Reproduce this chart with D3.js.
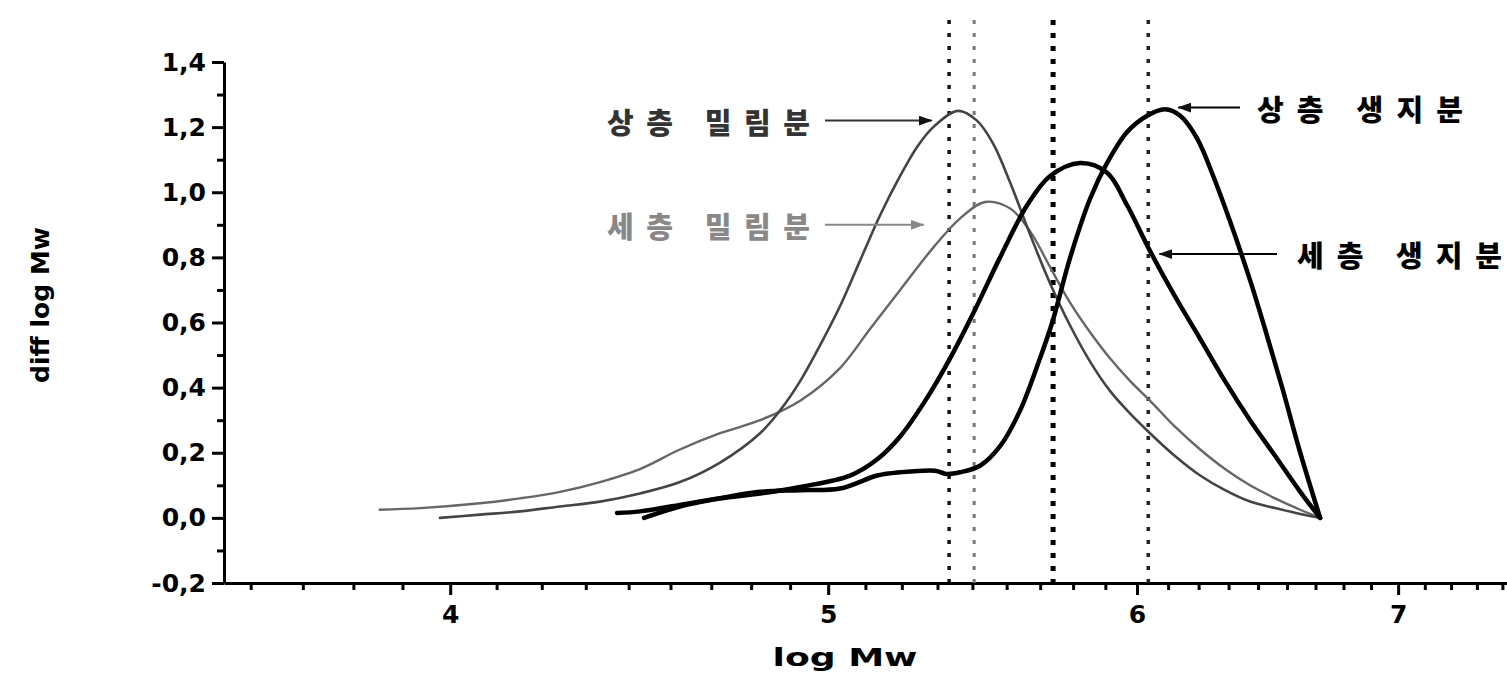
<!DOCTYPE html>
<html>
<head>
<meta charset="utf-8">
<script src="https://cdn.jsdelivr.net/npm/d3@7"></script>
<style>
    html, body { margin: 0; padding: 0; background: #fff; }
    svg { display: block; }
    .axis text { font-family: "DejaVu Sans", sans-serif; font-weight: bold; font-size: 25px; fill: #000; }
    .axis path, .axis line { stroke: #000; stroke-width: 3; }
    .axis-title { font-family: "DejaVu Sans", sans-serif; font-weight: bold; fill: #000; }
    .label { font-family: "Noto Sans CJK KR", sans-serif; font-weight: 900; font-size: 29px; }
    .curve { fill: none; stroke-linejoin: round; stroke-linecap: round; }
</style>
</head>
<body>
<svg id="chart"></svg>
<script>

// Data ////////////////////////////////////

const seriesNames = ["상층 밀림분", "세층 밀림분", "상층 생지분", "세층 생지분"];

// [log Mw, diff log Mw]
const upperMilled = [
    [3.976, 0.00], [4.071, 0.01], [4.168, 0.02], [4.268, 0.035], [4.370, 0.05],
    [4.474, 0.075], [4.581, 0.11], [4.691, 0.17], [4.803, 0.26], [4.860, 0.33],
    [4.918, 0.42], [4.976, 0.53], [5.035, 0.65], [5.095, 0.79], [5.156, 0.93],
    [5.217, 1.05], [5.270, 1.14], [5.320, 1.20], [5.398, 1.25], [5.459, 1.22],
    [5.511, 1.15], [5.567, 1.03], [5.633, 0.87], [5.700, 0.72], [5.768, 0.59],
    [5.836, 0.48], [5.905, 0.39], [5.976, 0.32], [6.046, 0.26], [6.136, 0.19],
    [6.228, 0.13], [6.320, 0.085], [6.414, 0.05], [6.510, 0.03], [6.607, 0.012],
    [6.685, 0.00]
];

const lowerMilled = [
    [3.837, 0.025], [3.930, 0.03], [4.071, 0.045], [4.168, 0.06], [4.268, 0.08],
    [4.370, 0.11], [4.474, 0.15], [4.581, 0.21], [4.691, 0.26], [4.803, 0.30],
    [4.918, 0.36], [5.035, 0.46], [5.125, 0.58], [5.217, 0.70], [5.320, 0.83],
    [5.405, 0.92], [5.485, 0.97], [5.567, 0.95], [5.633, 0.88], [5.700, 0.77],
    [5.768, 0.66], [5.836, 0.57], [5.905, 0.49], [5.976, 0.42], [6.046, 0.36],
    [6.136, 0.28], [6.228, 0.21], [6.320, 0.15], [6.414, 0.10], [6.510, 0.06],
    [6.607, 0.025], [6.685, 0.00]
];

const upperRaw = [
    [4.485, 0.00], [4.581, 0.035], [4.691, 0.06], [4.803, 0.08], [4.918, 0.085],
    [5.035, 0.09], [5.147, 0.13], [5.217, 0.14], [5.326, 0.145], [5.361, 0.135],
    [5.405, 0.14], [5.469, 0.16], [5.534, 0.22], [5.600, 0.33], [5.666, 0.49],
    [5.707, 0.60], [5.768, 0.80], [5.836, 0.98], [5.895, 1.09], [5.965, 1.185],
    [6.036, 1.235], [6.100, 1.255], [6.155, 1.235], [6.217, 1.165], [6.276, 1.05],
    [6.339, 0.91], [6.414, 0.73], [6.471, 0.58], [6.537, 0.40], [6.607, 0.20],
    [6.685, 0.00]
];

const lowerRaw = [
    [4.414, 0.015], [4.474, 0.02], [4.581, 0.04], [4.691, 0.06], [4.803, 0.075],
    [4.918, 0.095], [5.065, 0.13], [5.147, 0.18], [5.217, 0.25], [5.295, 0.36],
    [5.373, 0.49], [5.453, 0.64], [5.534, 0.80], [5.623, 0.96], [5.700, 1.05],
    [5.802, 1.09], [5.895, 1.06], [5.965, 0.96], [6.046, 0.82], [6.136, 0.68],
    [6.228, 0.55], [6.320, 0.42], [6.414, 0.30], [6.510, 0.19], [6.607, 0.08],
    [6.685, 0.00]
];

const refLines = [5.37, 5.45, 5.71, 6.04];

const xTickValues = [4, 5, 6, 7];
const yTickValues = [-0.2, 0, 0.2, 0.4, 0.6, 0.8, 1.0, 1.2, 1.4];

// Layout ////////////////////////////////////

const dim = { width: 1507, height: 674 };
const plot = { left: 224, right: 1515, top: 62, bottom: 583 };

const x = d3.scaleLog()
    .domain([3.5, 7.5])
    .range([plot.left, plot.right]);

const y = d3.scaleLinear()
    .domain([-0.2, 1.4])
    .range([plot.bottom, plot.top]);

const svg = d3.select("#chart")
    .attr("width", dim.width)
    .attr("height", dim.height)
    .attr("viewBox", [0, 0, dim.width, dim.height]);

const defs = svg.append("defs");
[["arrow-dark", "#111"], ["arrow-grey", "#888"]].forEach(([id, color]) => {
    defs.append("marker")
        .attr("id", id)
        .attr("markerUnits", "userSpaceOnUse")
        .attr("markerWidth", 14).attr("markerHeight", 10)
        .attr("refX", 13).attr("refY", 5)
        .attr("orient", "auto")
        .append("path")
        .attr("d", "M0,0 L14,5 L0,10 Z")
        .attr("fill", color);
});

// Axes ////////////////////////////////////

// 8 minor ticks between major ticks, as on the original axis
const minorX = [];
const xMajors = [3, 4, 5, 6, 7, 8];
for (let i = 0; i < xMajors.length - 1; i++) {
    for (let k = 1; k < 9; k++) {
        const v = xMajors[i] + k / 9;
        if (v > 3.5 && v < 7.5) minorX.push(v);
    }
}
const minorY = d3.range(-0.1, 1.4, 0.2);

const fmtComma = d => d3.format(".1f")(d).replace(".", ",").replace("−", "-");

svg.append("g")
    .attr("class", "axis")
    .attr("transform", `translate(0, ${ plot.bottom })`)
    .call(d3.axisBottom(x).tickValues(minorX).tickFormat("").tickSize(7).tickSizeOuter(0))
    .call(g => g.select(".domain").remove());

svg.append("g")
    .attr("class", "axis x")
    .attr("transform", `translate(0, ${ plot.bottom })`)
    .call(d3.axisBottom(x)
        .tickValues(xTickValues)
        .tickFormat(d3.format("d"))
        .tickSize(12)
        .tickSizeOuter(0)
        .tickPadding(10));

svg.append("g")
    .attr("class", "axis")
    .attr("transform", `translate(${ plot.left }, 0)`)
    .call(d3.axisLeft(y).tickValues(minorY).tickFormat("").tickSize(7).tickSizeOuter(0))
    .call(g => g.select(".domain").remove());

svg.append("g")
    .attr("class", "axis y")
    .attr("transform", `translate(${ plot.left }, 0)`)
    .call(d3.axisLeft(y)
        .tickValues(yTickValues)
        .tickFormat(fmtComma)
        .tickSize(12)
        .tickSizeOuter(0)
        .tickPadding(6));

svg.append("text")
    .attr("class", "axis-title")
    .attr("x", 845)
    .attr("y", 666)
    .attr("text-anchor", "middle")
    .style("font-size", "25px")
    .attr("textLength", 145)
    .attr("lengthAdjust", "spacingAndGlyphs")
    .text("log Mw");

svg.append("text")
    .attr("class", "axis-title")
    .attr("transform", "translate(40, 305) rotate(-90)")
    .attr("text-anchor", "middle")
    .attr("dominant-baseline", "central")
    .style("font-size", "25px")
    .text("diff log Mw");

// Reference lines ////////////////////////////////////

const refStyles = [
    { color: "#111", width: 3.5, dash: "4 9" },
    { color: "#777", width: 3, dash: "4 9" },
    { color: "#000", width: 5, dash: "5 8" },
    { color: "#222", width: 3.5, dash: "4 9" }
];

svg.append("g")
    .selectAll("line")
    .data(refLines)
    .join("line")
    .attr("x1", d => x(d)).attr("x2", d => x(d))
    .attr("y1", 20).attr("y2", plot.bottom)
    .attr("stroke", (d, i) => refStyles[i].color)
    .attr("stroke-width", (d, i) => refStyles[i].width)
    .attr("stroke-dasharray", (d, i) => refStyles[i].dash);

// Curves ////////////////////////////////////

const line = d3.line()
    .curve(d3.curveCatmullRom.alpha(0.5))
    .x(d => x(d[0]))
    .y(d => y(d[1]));

const curves = [
    { data: lowerMilled, color: "#666", width: 2.4 },
    { data: upperMilled, color: "#444", width: 2.6 },
    { data: lowerRaw, color: "#000", width: 4.5 },
    { data: upperRaw, color: "#000", width: 4.5 }
];

svg.append("g")
    .selectAll("path")
    .data(curves)
    .join("path")
    .attr("class", "curve")
    .attr("d", d => line(d.data))
    .attr("stroke", d => d.color)
    .attr("stroke-width", d => d.width);

// Annotations ////////////////////////////////////

const annotations = [
    { name: seriesNames[0], target: [5.315, 1.22], tailX: 825, textX: 607, width: 203, color: "#333", marker: "arrow-dark" },
    { name: seriesNames[1], target: [5.29, 0.90], tailX: 825, textX: 607, width: 203, color: "#888", marker: "arrow-grey" },
    { name: seriesNames[2], target: [6.148, 1.26], tailX: 1240, textX: 1257, width: 206, color: "#000", marker: "arrow-dark" },
    { name: seriesNames[3], target: [6.08, 0.81], tailX: 1277, textX: 1297, width: 205, color: "#000", marker: "arrow-dark" }
];

const ann = svg.append("g")
    .selectAll("g")
    .data(annotations)
    .join("g");

ann.append("line")
    .attr("x1", d => d.tailX)
    .attr("x2", d => x(d.target[0]))
    .attr("y1", d => y(d.target[1]))
    .attr("y2", d => y(d.target[1]))
    .attr("stroke", d => d.color)
    .attr("stroke-width", 2)
    .attr("marker-end", d => `url(#${ d.marker })`);

ann.append("text")
    .attr("class", "label")
    .attr("x", d => d.textX)
    .attr("y", d => y(d.target[1]))
    .attr("dominant-baseline", "central")
    .attr("textLength", d => d.width)
    .attr("lengthAdjust", "spacing")
    .attr("fill", d => d.color)
    .text(d => d.name);

</script>
</body>
</html>
